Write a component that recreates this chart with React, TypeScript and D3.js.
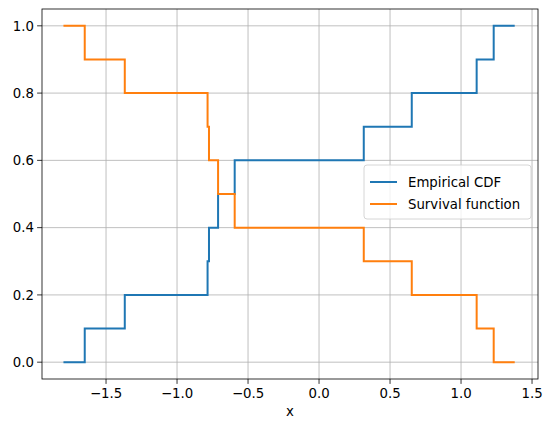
import React from 'react';
import * as d3 from 'd3';

const samples = [-1.65, -1.368, -0.785, -0.775, -0.711, -0.594, 0.315, 0.653, 1.11, 1.23];
const xStart = -1.8;
const xEnd = 1.378;
const xTicks = [-1.5, -1.0, -0.5, 0.0, 0.5, 1.0, 1.5];
const yTicks = [0.0, 0.2, 0.4, 0.6, 0.8, 1.0];

const width = 554;
const height = 432;
const margin = { top: 9, right: 16, bottom: 53, left: 42 };

function App() {
  const x = d3.scaleLinear().domain([-1.951, 1.542]).range([margin.left, width - margin.right]);
  const y = d3.scaleLinear().domain([-0.05, 1.05]).range([height - margin.bottom, margin.top]);

  const n = samples.length;
  const cdf: [number, number][] = [[xStart, 0], ...samples.map((s, i) => [s, (i + 1) / n] as [number, number]), [xEnd, 1]];
  const surv: [number, number][] = cdf.map(([a, b]) => [a, 1 - b]);

  const line = d3.line<[number, number]>()
    .x(d => x(d[0]))
    .y(d => y(d[1]))
    .curve(d3.curveStepAfter);

  const font = 'DejaVu Sans, sans-serif';
  const [x0, x1] = x.range();
  const [y0, y1] = y.range();

  return (
    <svg width={width} height={height} style={{ position: 'absolute', left: 0, top: 0 }} fontFamily={font}>
      <rect width={width} height={height} fill="#fff" />
      {xTicks.map(t => (
        <g key={'x' + t}>
          <line x1={x(t)} x2={x(t)} y1={y1} y2={y0} stroke="#b0b0b0" strokeWidth={0.8} />
          <line x1={x(t)} x2={x(t)} y1={y0} y2={y0 + 4.9} stroke="#000" strokeWidth={0.8} />
          <text x={x(t)} y={y0 + 19} textAnchor="middle" fontSize={13.3}>{d3.format('.1f')(t).replace('-', '\u2212')}</text>
        </g>
      ))}
      {yTicks.map(t => (
        <g key={'y' + t}>
          <line x1={x0} x2={x1} y1={y(t)} y2={y(t)} stroke="#b0b0b0" strokeWidth={0.8} />
          <line x1={x0 - 4.9} x2={x0} y1={y(t)} y2={y(t)} stroke="#000" strokeWidth={0.8} />
          <text x={x0 - 8} y={y(t) + 4.8} textAnchor="end" fontSize={13.3}>{d3.format('.1f')(t)}</text>
        </g>
      ))}
      <path d={line(cdf) || ''} fill="none" stroke="#1f77b4" strokeWidth={2} />
      <path d={line(surv) || ''} fill="none" stroke="#ff7f0e" strokeWidth={2} />
      <rect x={x0} y={y1} width={x1 - x0} height={y0 - y1} fill="none" stroke="#000" strokeWidth={0.8} />
      <text x={(x0 + x1) / 2} y={y0 + 37} textAnchor="middle" fontSize={13.3}>x</text>
      <g transform="translate(364,165)">
        <rect width={167} height={54} rx={3} fill="#fff" fillOpacity={0.8} stroke="#ccc" strokeWidth={0.8} />
        <line x1={6} x2={33} y1={17} y2={17} stroke="#1f77b4" strokeWidth={2} />
        <text x={44} y={22} fontSize={13.3}>Empirical CDF</text>
        <line x1={6} x2={33} y1={39} y2={39} stroke="#ff7f0e" strokeWidth={2} />
        <text x={44} y={44} fontSize={13.3}>Survival function</text>
      </g>
    </svg>
  );
}

export default App;
